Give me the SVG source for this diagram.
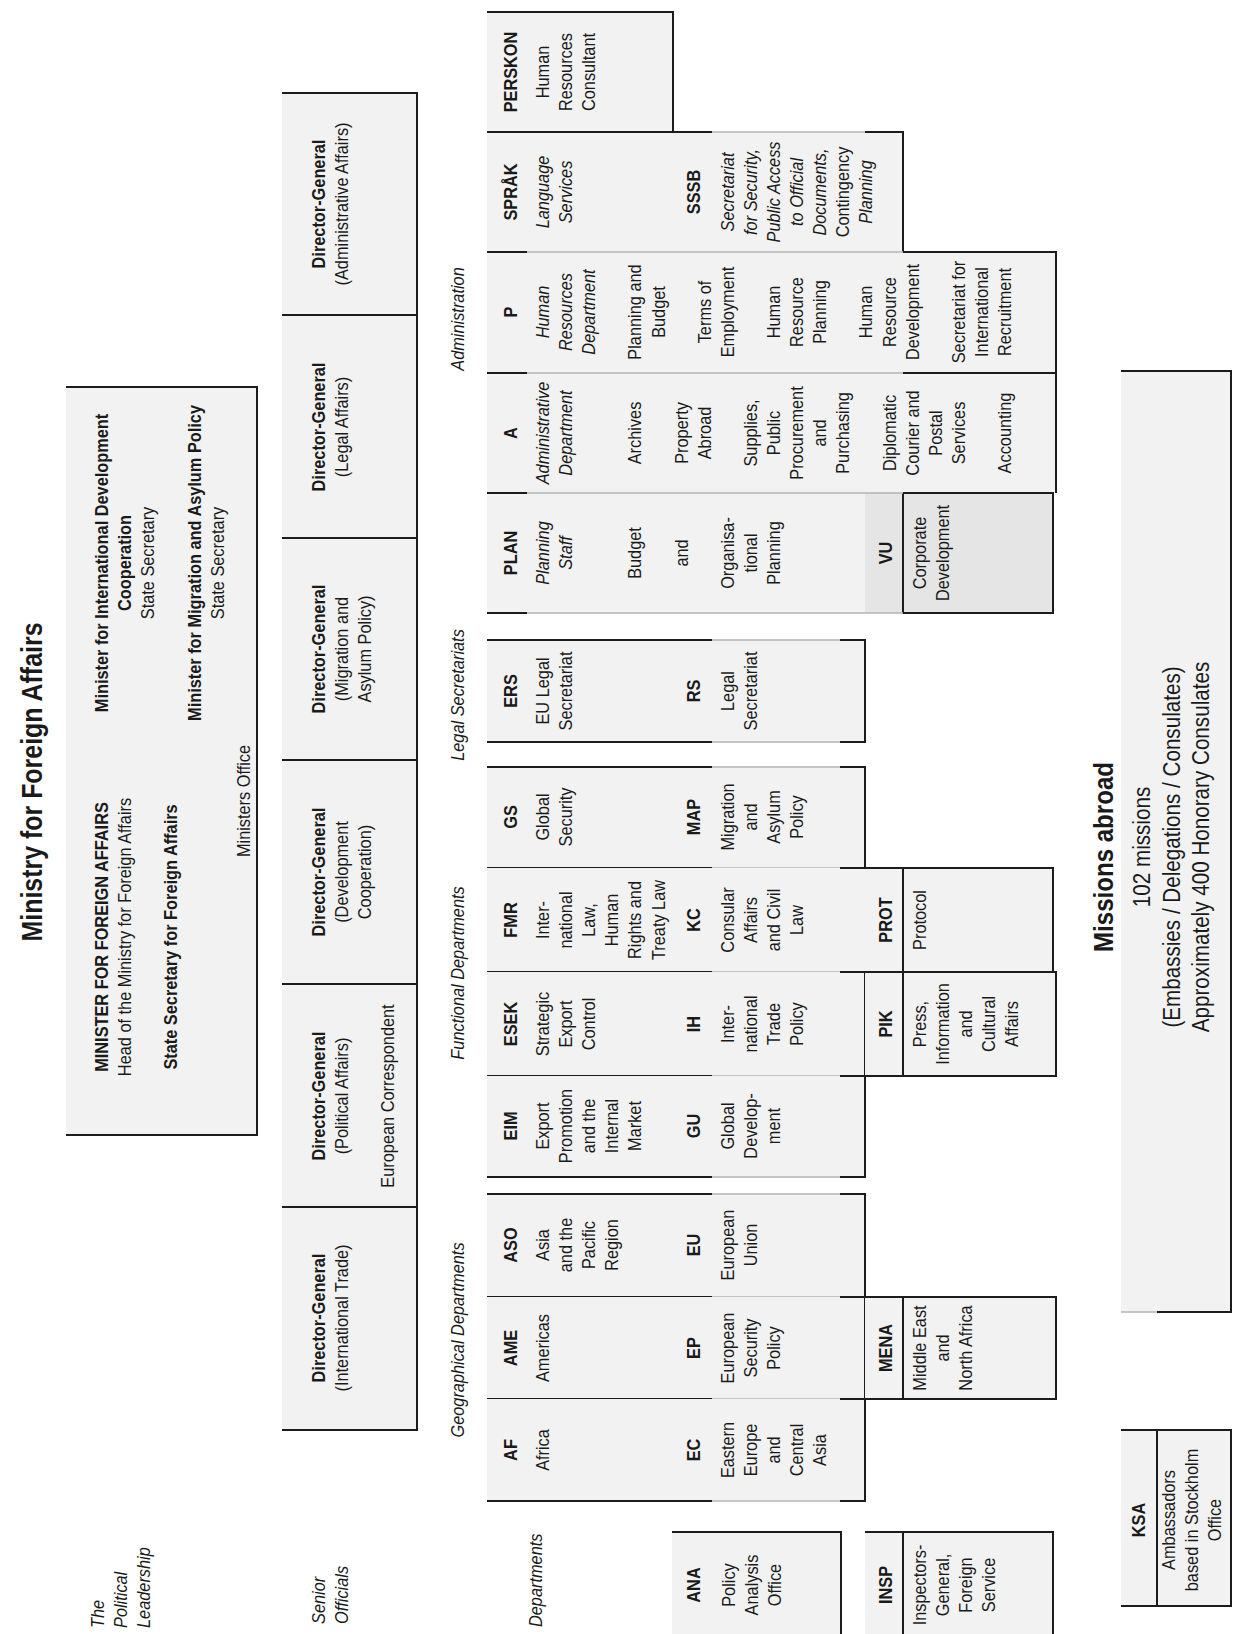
<svg xmlns="http://www.w3.org/2000/svg" width="1237" height="1634" viewBox="0 0 1237 1634">
<defs>
<style>
.bg{fill:#f2f2f2}
.bg2{fill:#e5e5e5}
.k{stroke:#1c1c1c;stroke-width:2;fill:none}
.g{stroke:#b4b4b4;stroke-width:1.5;fill:none}
text{font-family:"Liberation Sans",Arial,Helvetica,sans-serif;font-size:19px;fill:#1a1a1a;text-anchor:middle}
.b{font-weight:bold}
.i{font-style:italic}
.s{text-anchor:start}
.h1{font-size:29px;font-weight:bold}
.h2{font-size:28px;font-weight:bold}
.m{font-size:24px}
</style>
</defs>
<rect width="1237" height="1634" fill="#ffffff"/>

<g id="title">
<text class="h1" transform="translate(42 782) rotate(-90) scale(.86 1)">Ministry for Foreign Affairs</text>
</g>

<g id="row-labels">
<text class="i s" transform="translate(104 1628) rotate(-90) scale(.86 1)"><tspan x="0" y="0">The</tspan><tspan x="0" y="23">Political</tspan><tspan x="0" y="46">Leadership</tspan></text>
<text class="i s" transform="translate(325 1624) rotate(-90) scale(.86 1)"><tspan x="0" y="0">Senior</tspan><tspan x="0" y="23">Officials</tspan></text>
<text class="i s" transform="translate(542 1627) rotate(-90) scale(.86 1)">Departments</text>
</g>

<g id="group-labels">
<text class="i" transform="translate(464 319) rotate(-90) scale(.86 1)">Administration</text>
<text class="i" transform="translate(464 695) rotate(-90) scale(.86 1)">Legal Secretariats</text>
<text class="i" transform="translate(464 973) rotate(-90) scale(.86 1)">Functional Departments</text>
<text class="i" transform="translate(464 1340) rotate(-90) scale(.86 1)">Geographical Departments</text>
</g>

<g id="ministers-office">
<rect class="bg" x="66" y="387" width="191" height="748"/>
<path class="k" d="M66 387H257V1135H66"/>
<text transform="translate(108 937) rotate(-90) scale(.86 1)"><tspan class="b" x="0" y="0">MINISTER FOR FOREIGN AFFAIRS</tspan><tspan x="0" y="23">Head of the Ministry for Foreign Affairs</tspan><tspan class="b" x="0" y="69">State Secretary for Foreign Affairs</tspan></text>
<text transform="translate(108 563) rotate(-90) scale(.86 1)"><tspan class="b" x="0" y="0">Minister for International Development</tspan><tspan class="b" x="0" y="23">Cooperation</tspan><tspan x="0" y="46">State Secretary</tspan><tspan class="b" x="0" y="93">Minister for Migration and Asylum Policy</tspan><tspan x="0" y="116">State Secretary</tspan></text>
<text transform="translate(250 801) rotate(-90) scale(.86 1)">Ministers Office</text>
</g>

<g id="dg-administrative">
<rect class="bg" x="282" y="93" width="135" height="222"/>
<path class="k" d="M282 93H417V315H282"/>
<text transform="translate(325 204) rotate(-90) scale(.86 1)"><tspan class="b" x="0" y="0">Director-General</tspan><tspan x="0" y="23">(Administrative Affairs)</tspan></text>
</g>
<g id="dg-legal">
<rect class="bg" x="282" y="315" width="135" height="223"/>
<path class="k" d="M282 315H417V538H282"/>
<text transform="translate(325 427) rotate(-90) scale(.86 1)"><tspan class="b" x="0" y="0">Director-General</tspan><tspan x="0" y="23">(Legal Affairs)</tspan></text>
</g>
<g id="dg-migration">
<rect class="bg" x="282" y="538" width="135" height="222"/>
<path class="k" d="M282 538H417V760H282"/>
<text transform="translate(325 649) rotate(-90) scale(.86 1)"><tspan class="b" x="0" y="0">Director-General</tspan><tspan x="0" y="23">(Migration and</tspan><tspan x="0" y="46">Asylum Policy)</tspan></text>
</g>
<g id="dg-development">
<rect class="bg" x="282" y="760" width="135" height="224"/>
<path class="k" d="M282 760H417V984H282"/>
<text transform="translate(325 872) rotate(-90) scale(.86 1)"><tspan class="b" x="0" y="0">Director-General</tspan><tspan x="0" y="23">(Development</tspan><tspan x="0" y="46">Cooperation)</tspan></text>
</g>
<g id="dg-political">
<rect class="bg" x="282" y="984" width="135" height="223"/>
<path class="k" d="M282 984H417V1207H282"/>
<text transform="translate(325 1096) rotate(-90) scale(.86 1)"><tspan class="b" x="0" y="0">Director-General</tspan><tspan x="0" y="23">(Political Affairs)</tspan><tspan x="0" y="69">European Correspondent</tspan></text>
</g>
<g id="dg-trade">
<rect class="bg" x="282" y="1207" width="135" height="223"/>
<path class="k" d="M282 1207H417V1430H282"/>
<text transform="translate(325 1318) rotate(-90) scale(.86 1)"><tspan class="b" x="0" y="0">Director-General</tspan><tspan x="0" y="23">(International Trade)</tspan></text>
</g>

<g id="perskon">
<rect class="bg" x="487" y="12" width="186" height="120"/>
<path class="k" d="M487 12H673V132"/>
<text transform="translate(517 72) rotate(-90) scale(.86 1)"><tspan class="b" x="0" y="0">PERSKON</tspan><tspan x="0" y="32">Human</tspan><tspan x="0" y="55">Resources</tspan><tspan x="0" y="78">Consultant</tspan></text>
</g>
<g id="sprak-sssb">
<rect class="bg" x="487" y="132" width="416" height="120"/>
<path class="k" d="M487 132H712M865 132H903V252"/>
<path class="g" d="M712 132H865"/>
<text transform="translate(517 192) rotate(-90) scale(.86 1)"><tspan class="b" x="0" y="0">SPRÅK</tspan><tspan class="i" x="0" y="32">Language</tspan><tspan class="i" x="0" y="55">Services</tspan><tspan class="b" x="0" y="183">SSSB</tspan><tspan class="i" x="0" y="217">Secretariat</tspan><tspan class="i" x="0" y="240">for Security,</tspan><tspan class="i" x="0" y="263">Public Access</tspan><tspan class="i" x="0" y="286">to Official</tspan><tspan class="i" x="0" y="309">Documents,</tspan><tspan x="0" y="332">Contingency</tspan><tspan class="i" x="0" y="355">Planning</tspan></text>
</g>
<g id="p">
<rect class="bg" x="487" y="252" width="569" height="121"/>
<path class="k" d="M487 252H527M903 252H1056V373"/>
<path class="g" d="M527 252H903"/>
<text transform="translate(517 312) rotate(-90) scale(.86 1)"><tspan class="b" x="0" y="0">P</tspan><tspan class="i" x="0" y="32">Human</tspan><tspan class="i" x="0" y="55">Resources</tspan><tspan class="i" x="0" y="78">Department</tspan><tspan x="0" y="124">Planning and</tspan><tspan x="0" y="148">Budget</tspan><tspan x="0" y="194">Terms of</tspan><tspan x="0" y="217">Employment</tspan><tspan x="0" y="263">Human</tspan><tspan x="0" y="286">Resource</tspan><tspan x="0" y="309">Planning</tspan><tspan x="0" y="355">Human</tspan><tspan x="0" y="379">Resource</tspan><tspan x="0" y="402">Development</tspan><tspan x="0" y="448">Secretariat for</tspan><tspan x="0" y="471">International</tspan><tspan x="0" y="494">Recruitment</tspan></text>
</g>
<g id="a">
<rect class="bg" x="487" y="373" width="569" height="120"/>
<path class="k" d="M487 373H527M903 373H1056V493"/>
<path class="g" d="M527 373H903"/>
<text transform="translate(517 433) rotate(-90) scale(.86 1)"><tspan class="b" x="0" y="0">A</tspan><tspan class="i" x="0" y="32">Administrative</tspan><tspan class="i" x="0" y="55">Department</tspan><tspan x="0" y="124">Archives</tspan><tspan x="0" y="171">Property</tspan><tspan x="0" y="194">Abroad</tspan><tspan x="0" y="240">Supplies,</tspan><tspan x="0" y="263">Public</tspan><tspan x="0" y="286">Procurement</tspan><tspan x="0" y="309">and</tspan><tspan x="0" y="332">Purchasing</tspan><tspan x="0" y="379">Diplomatic</tspan><tspan x="0" y="402">Courier and</tspan><tspan x="0" y="425">Postal</tspan><tspan x="0" y="448">Services</tspan><tspan x="0" y="494">Accounting</tspan></text>
</g>
<g id="plan">
<rect class="bg" x="487" y="493" width="378" height="120"/>
<path class="k" d="M487 493H527M487 613H527"/>
<path class="g" d="M527 493H865M527 613H865"/>
<text transform="translate(517 553) rotate(-90) scale(.86 1)"><tspan class="b" x="0" y="0">PLAN</tspan><tspan class="i" x="0" y="32">Planning</tspan><tspan class="i" x="0" y="55">Staff</tspan><tspan x="0" y="124">Budget</tspan><tspan x="0" y="171">and</tspan><tspan x="0" y="217">Organisa-</tspan><tspan x="0" y="240">tional</tspan><tspan x="0" y="263">Planning</tspan></text>
</g>
<g id="vu">
<rect class="bg2" x="865" y="493" width="188" height="120"/>
<path class="k" d="M903 493H1053V613H903V493"/>
<path class="g" d="M865 493H903M865 613H903"/>
<text transform="translate(892 553) rotate(-90) scale(.86 1)"><tspan class="b" x="0" y="0">VU</tspan><tspan x="0" y="34">Corporate</tspan><tspan x="0" y="57">Development</tspan></text>
</g>

<g id="ers-rs">
<rect class="bg" x="487" y="640" width="378" height="102"/>
<path class="k" d="M487 640H712M840 640H865V742H840M487 742H712"/>
<path class="g" d="M712 640H840M712 742H840"/>
<text transform="translate(517 691) rotate(-90) scale(.86 1)"><tspan class="b" x="0" y="0">ERS</tspan><tspan x="0" y="32">EU Legal</tspan><tspan x="0" y="55">Secretariat</tspan><tspan class="b" x="0" y="183">RS</tspan><tspan x="0" y="217">Legal</tspan><tspan x="0" y="240">Secretariat</tspan></text>
</g>

<g id="gs-map">
<rect class="bg" x="487" y="767" width="378" height="101"/>
<path class="k" d="M487 767H712M840 767H865V868M487 868H712"/>
<path class="g" d="M712 767H840M712 868H840"/>
<text transform="translate(517 817) rotate(-90) scale(.86 1)"><tspan class="b" x="0" y="0">GS</tspan><tspan x="0" y="32">Global</tspan><tspan x="0" y="55">Security</tspan><tspan class="b" x="0" y="183">MAP</tspan><tspan x="0" y="217">Migration</tspan><tspan x="0" y="240">and</tspan><tspan x="0" y="263">Asylum</tspan><tspan x="0" y="286">Policy</tspan></text>
</g>
<g id="fmr-kc">
<rect class="bg" x="487" y="868" width="378" height="104"/>
<path class="k" d="M487 972H712"/>
<path class="g" d="M712 972H840"/>
<text transform="translate(517 920) rotate(-90) scale(.86 1)"><tspan class="b" x="0" y="0">FMR</tspan><tspan x="0" y="32">Inter-</tspan><tspan x="0" y="55">national</tspan><tspan x="0" y="78">Law,</tspan><tspan x="0" y="101">Human</tspan><tspan x="0" y="124">Rights and</tspan><tspan x="0" y="148">Treaty Law</tspan><tspan class="b" x="0" y="183">KC</tspan><tspan x="0" y="217">Consular</tspan><tspan x="0" y="240">Affairs</tspan><tspan x="0" y="263">and Civil</tspan><tspan x="0" y="286">Law</tspan></text>
</g>
<g id="esek-ih">
<rect class="bg" x="487" y="972" width="378" height="104"/>
<path class="k" d="M865 972V1076M487 1076H712"/>
<path class="g" d="M712 1076H840"/>
<text transform="translate(517 1024) rotate(-90) scale(.86 1)"><tspan class="b" x="0" y="0">ESEK</tspan><tspan x="0" y="32">Strategic</tspan><tspan x="0" y="55">Export</tspan><tspan x="0" y="78">Control</tspan><tspan class="b" x="0" y="183">IH</tspan><tspan x="0" y="217">Inter-</tspan><tspan x="0" y="240">national</tspan><tspan x="0" y="263">Trade</tspan><tspan x="0" y="286">Policy</tspan></text>
</g>
<g id="eim-gu">
<rect class="bg" x="487" y="1076" width="378" height="101"/>
<path class="k" d="M840 1076H865V1177H840M487 1177H712"/>
<path class="g" d="M712 1177H840"/>
<text transform="translate(517 1126) rotate(-90) scale(.86 1)"><tspan class="b" x="0" y="0">EIM</tspan><tspan x="0" y="32">Export</tspan><tspan x="0" y="55">Promotion</tspan><tspan x="0" y="78">and the</tspan><tspan x="0" y="101">Internal</tspan><tspan x="0" y="124">Market</tspan><tspan class="b" x="0" y="183">GU</tspan><tspan x="0" y="217">Global</tspan><tspan x="0" y="240">Develop-</tspan><tspan x="0" y="263">ment</tspan></text>
</g>
<g id="prot">
<rect class="bg" x="865" y="868" width="188" height="104"/>
<path class="k" d="M840 868H1053V972H840M903 868V972"/>
<text transform="translate(892 920) rotate(-90) scale(.86 1)"><tspan class="b" x="0" y="0">PROT</tspan><tspan x="0" y="34">Protocol</tspan></text>
</g>
<g id="pik">
<rect class="bg" x="865" y="972" width="191" height="104"/>
<path class="k" d="M865 972H1056V1076H840M903 972V1076"/>
<text transform="translate(892 1024) rotate(-90) scale(.86 1)"><tspan class="b" x="0" y="0">PIK</tspan><tspan x="0" y="34">Press,</tspan><tspan x="0" y="57">Information</tspan><tspan x="0" y="80">and</tspan><tspan x="0" y="103">Cultural</tspan><tspan x="0" y="126">Affairs</tspan></text>
</g>

<g id="aso-eu">
<rect class="bg" x="487" y="1194" width="378" height="103"/>
<path class="k" d="M487 1194H712M840 1194H865V1297M487 1297H712"/>
<path class="g" d="M712 1194H840M712 1297H840"/>
<text transform="translate(517 1245) rotate(-90) scale(.86 1)"><tspan class="b" x="0" y="0">ASO</tspan><tspan x="0" y="32">Asia</tspan><tspan x="0" y="55">and the</tspan><tspan x="0" y="78">Pacific</tspan><tspan x="0" y="101">Region</tspan><tspan class="b" x="0" y="183">EU</tspan><tspan x="0" y="217">European</tspan><tspan x="0" y="240">Union</tspan></text>
</g>
<g id="ame-ep">
<rect class="bg" x="487" y="1297" width="378" height="102"/>
<path class="k" d="M865 1297V1399M487 1399H712"/>
<path class="g" d="M712 1399H840"/>
<text transform="translate(517 1348) rotate(-90) scale(.86 1)"><tspan class="b" x="0" y="0">AME</tspan><tspan x="0" y="32">Americas</tspan><tspan class="b" x="0" y="183">EP</tspan><tspan x="0" y="217">European</tspan><tspan x="0" y="240">Security</tspan><tspan x="0" y="263">Policy</tspan></text>
</g>
<g id="af-ec">
<rect class="bg" x="487" y="1399" width="378" height="102"/>
<path class="k" d="M865 1399V1501H840M487 1501H712"/>
<path class="g" d="M712 1501H840"/>
<text transform="translate(517 1450) rotate(-90) scale(.86 1)"><tspan class="b" x="0" y="0">AF</tspan><tspan x="0" y="32">Africa</tspan><tspan class="b" x="0" y="183">EC</tspan><tspan x="0" y="217">Eastern</tspan><tspan x="0" y="240">Europe</tspan><tspan x="0" y="263">and</tspan><tspan x="0" y="286">Central</tspan><tspan x="0" y="309">Asia</tspan></text>
</g>
<g id="mena">
<rect class="bg" x="865" y="1297" width="191" height="102"/>
<path class="k" d="M840 1297H1056V1399H840M903 1297V1399"/>
<text transform="translate(892 1348) rotate(-90) scale(.86 1)"><tspan class="b" x="0" y="0">MENA</tspan><tspan x="0" y="34">Middle East</tspan><tspan x="0" y="57">and</tspan><tspan x="0" y="80">North Africa</tspan></text>
</g>

<g id="ana">
<rect class="bg" x="672" y="1532" width="169" height="102"/>
<path class="k" d="M672 1532H841V1634"/>
<text transform="translate(700 1585) rotate(-90) scale(.86 1)"><tspan class="b" x="0" y="0">ANA</tspan><tspan x="0" y="35">Policy</tspan><tspan x="0" y="58">Analysis</tspan><tspan x="0" y="81">Office</tspan></text>
</g>
<g id="insp">
<rect class="bg" x="865" y="1532" width="188" height="102"/>
<path class="k" d="M865 1532H1053V1634M903 1532V1634"/>
<text transform="translate(892 1585) rotate(-90) scale(.86 1)"><tspan class="b" x="0" y="0">INSP</tspan><tspan x="0" y="34">Inspectors-</tspan><tspan x="0" y="57">General,</tspan><tspan x="0" y="80">Foreign</tspan><tspan x="0" y="103">Service</tspan></text>
</g>

<g id="missions-abroad">
<rect class="bg" x="1121" y="371" width="110" height="941"/>
<path class="k" d="M1121 371H1231V1312H1157"/>
<path class="g" d="M1121 1312H1157"/>
<text class="h2" transform="translate(1113 857) rotate(-90) scale(.86 1)">Missions abroad</text>
<text class="m" transform="translate(1150 847) rotate(-90) scale(.86 1)"><tspan x="0" y="0">102 missions</tspan><tspan x="0" y="30">(Embassies / Delegations / Consulates)</tspan><tspan x="0" y="59">Approximately 400 Honorary Consulates</tspan></text>
</g>
<g id="ksa">
<rect class="bg" x="1121" y="1430" width="110" height="176"/>
<path class="k" d="M1121 1430H1231V1606H1121M1157 1430V1606"/>
<text transform="translate(1145 1520) rotate(-90) scale(.86 1)"><tspan class="b" x="0" y="0">KSA</tspan><tspan x="0" y="30">Ambassadors</tspan><tspan x="0" y="53">based in Stockholm</tspan><tspan x="0" y="76">Office</tspan></text>
</g>

<g id="connectors"></g>
</svg>
